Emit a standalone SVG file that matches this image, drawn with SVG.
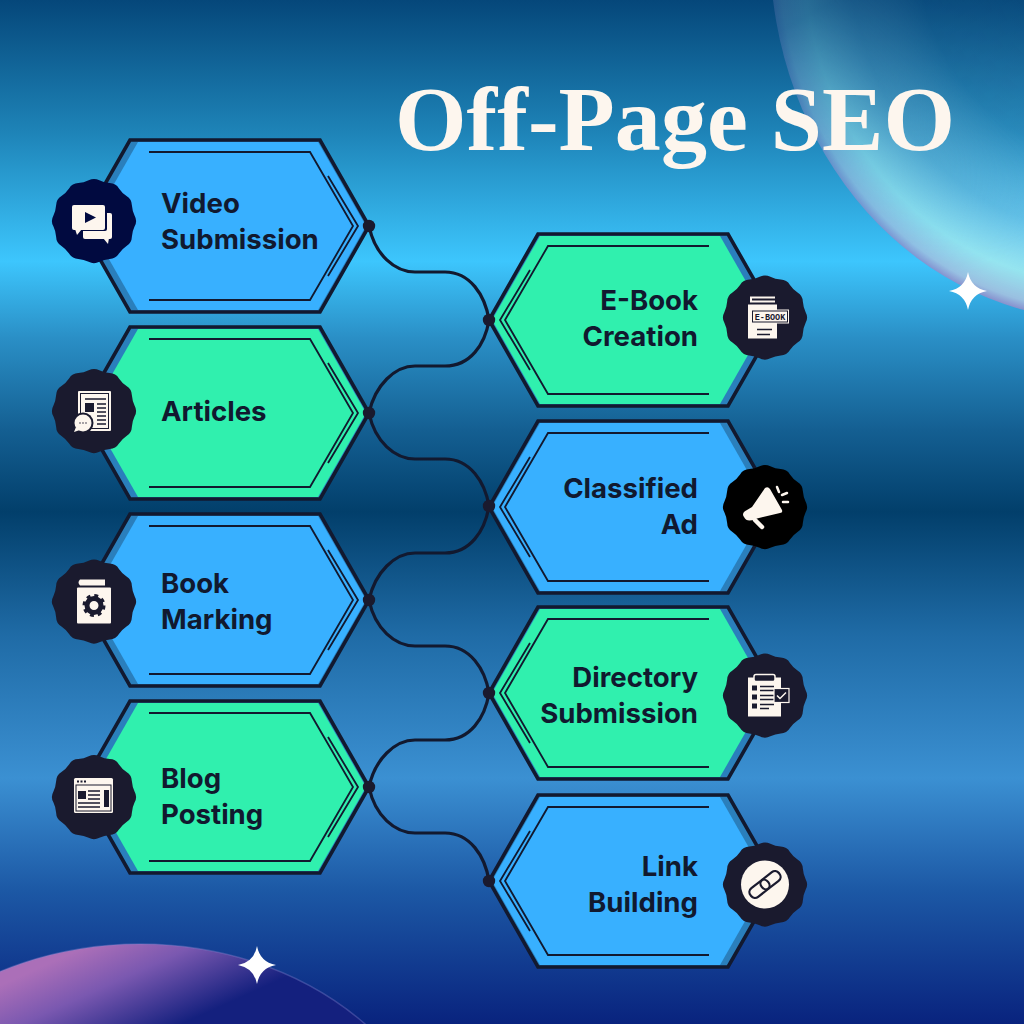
<svg xmlns="http://www.w3.org/2000/svg" width="1024" height="1024" viewBox="0 0 1024 1024">
<style>
.out{stroke:#12192f;stroke-width:3.6;stroke-linejoin:miter}
.in{fill:none;stroke:#12192f;stroke-width:1.8}
.lbl{font-family:"Inter","Liberation Sans",sans-serif;font-weight:700;font-size:27.6px;fill:#11192f}
.r{text-anchor:end}
.c{fill:#fdf6ee}
.conn{fill:none;stroke:#12192f;stroke-width:3.2}
.dot{fill:#1a1a2e}
</style>
<defs>
<linearGradient id="bg" x1="0" y1="0" x2="0" y2="1">
<stop offset="0" stop-color="#05477a"/>
<stop offset=".13" stop-color="#1e84b8"/>
<stop offset=".255" stop-color="#3dc6fd"/>
<stop offset=".33" stop-color="#2a8fc6"/>
<stop offset=".42" stop-color="#145f92"/>
<stop offset=".5" stop-color="#023f6b"/>
<stop offset=".62" stop-color="#1f6ba6"/>
<stop offset=".76" stop-color="#3b90d2"/>
<stop offset=".87" stop-color="#1c58a5"/>
<stop offset="1" stop-color="#09237e"/>
</linearGradient>
<radialGradient id="pl1" gradientUnits="userSpaceOnUse" cx="0" cy="0" r="1" gradientTransform="translate(1100 -50) scale(330 370)">
<stop offset="0" stop-color="#fff" stop-opacity="0"/>
<stop offset=".55" stop-color="#cfeef5" stop-opacity=".08"/>
<stop offset=".76" stop-color="#a0d4e6" stop-opacity=".45"/>
<stop offset=".9" stop-color="#a0e8ee" stop-opacity=".9"/>
<stop offset=".975" stop-color="#9fc0e0" stop-opacity=".95"/>
<stop offset="1" stop-color="#8c8fcc" stop-opacity=".95"/>
</radialGradient>
<linearGradient id="pm" gradientUnits="userSpaceOnUse" x1="800" y1="20" x2="950" y2="290">
<stop offset="0" stop-color="#fff" stop-opacity=".25"/>
<stop offset=".5" stop-color="#fff" stop-opacity=".7"/>
<stop offset="1" stop-color="#fff" stop-opacity="1"/>
</linearGradient>
<mask id="m1" maskUnits="userSpaceOnUse" x="0" y="0" width="1024" height="1024"><rect width="1024" height="1024" fill="url(#pm)"/></mask>
<linearGradient id="pl2" gradientUnits="userSpaceOnUse" x1="90" y1="945" x2="135" y2="1045">
<stop offset="0" stop-color="#ab6fb8"/>
<stop offset=".4" stop-color="#7a58b0"/>
<stop offset="1" stop-color="#14207e"/>
</linearGradient>
<polygon id="hexo" points="130,140 320,140 369,226 320,312 130,312 81,226"/>
<polygon id="hexf" points="138,142 318,142 366,226 318,310 138,310 90,226"/>
<g id="lines">
<polyline class="in" points="149,152 310,152 353,226 310,300 149,300"/>
<polyline class="in" points="328,176 358,226 328,276"/>
</g>
<g id="hexB"><use href="#hexo" fill="#2a7fbc" class="out"/><use href="#hexf" fill="#38b0ff"/><use href="#lines"/></g>
<g id="hexG"><use href="#hexo" fill="#2a7fbc" class="out"/><use href="#hexf" fill="#30f0ae"/><use href="#lines"/></g>
<path id="blob" d="M40.65 -5.35Q43.6 0 40.65 5.35Q38.25 10.25 37.88 15.69Q37.76 21.8 32.53 24.96Q28 28 24.96 32.53Q21.8 37.76 15.69 37.88Q10.25 38.25 5.35 40.65Q0 43.6 -5.35 40.65Q-10.25 38.25 -15.69 37.88Q-21.8 37.76 -24.96 32.53Q-28 28 -32.53 24.96Q-37.76 21.8 -37.88 15.69Q-38.25 10.25 -40.65 5.35Q-43.6 0 -40.65 -5.35Q-38.25 -10.25 -37.88 -15.69Q-37.76 -21.8 -32.53 -24.96Q-28 -28 -24.96 -32.53Q-21.8 -37.76 -15.69 -37.88Q-10.25 -38.25 -5.35 -40.65Q0 -43.6 5.35 -40.65Q10.25 -38.25 15.69 -37.88Q21.8 -37.76 24.96 -32.53Q28 -28 32.53 -24.96Q37.76 -21.8 37.88 -15.69Q38.25 -10.25 40.65 -5.35Z"/>
<path id="star" d="M0 -19Q3 -3 19 0Q3 3 0 19Q-3 3 -19 0Q-3 -3 0 -19Z" fill="#fff"/>
</defs>
<rect id="background" width="1024" height="1024" fill="url(#bg)"/>
<ellipse cx="1100" cy="-50" rx="330" ry="370" fill="url(#pl1)" mask="url(#m1)"/>
<ellipse cx="140" cy="1200" rx="310" ry="256" fill="url(#pl2)" stroke="#8a86d0" stroke-opacity=".35" stroke-width="1.500"/>
<use href="#star" x="968" y="291"/>
<use href="#star" x="257" y="965"/>
<text id="title" x="395" y="150" textLength="560" lengthAdjust="spacing" font-family="Liberation Serif,serif" font-weight="700" font-size="92" fill="#fdf6ee">Off-Page SEO</text>

<g id="connectors">
<path class="conn" d="M369 226C375 255 395 272 415 272H445C470 272 485 295 489 320"/>
<path class="conn" d="M489 320C485 345 470 366 445 366H415C395 366 375 385 369 413"/>
<path class="conn" d="M369 413C375 442 395 459 415 459H445C470 459 485 482 489 506"/>
<path class="conn" d="M489 506C485 531 470 553 445 553H415C395 553 375 572 369 600"/>
<path class="conn" d="M369 600C375 629 395 646 415 646H445C470 646 485 669 489 693"/>
<path class="conn" d="M489 693C485 718 470 740 445 740H415C395 740 375 759 369 787"/>
<path class="conn" d="M369 787C375 816 395 833 415 833H445C470 833 485 856 489 881"/>
</g>

<g id="node-video">
<use href="#hexB"/><use href="#blob" x="94" y="221" fill="#010a40"/>
<g transform="translate(94 221)">
<rect x="-11" y="-8" width="29" height="26" rx="2" class="c"/>
<path d="M9 17l5 6 1-6z" class="c"/>
<rect x="-24" y="-18" width="37" height="28" rx="2" fill="#010a40"/>
<rect x="-22" y="-16" width="33" height="25" rx="2" class="c"/>
<path d="M-19 8l2 6 5-6z" class="c"/>
<path d="M-9 -9L2 -3.500L-9 2z" fill="#010a40"/>
</g>
<text class="lbl" x="161" y="213">Video</text><text class="lbl" x="161" y="249">Submission</text>
</g>

<g id="node-articles">
<use href="#hexG" transform="translate(0 187)"/><use href="#blob" x="94" y="411" fill="#1a1a2e"/>
<g transform="translate(94 411)">
<rect x="-16" y="-20" width="33" height="40" rx="1" class="c"/>
<rect x="-13.500" y="-17.500" width="28" height="35" fill="none" stroke="#1a1a2e" stroke-width="1"/>
<rect x="-9" y="-8" width="9" height="9" fill="#1a1a2e"/>
<path d="M-9 -12H12M3 -7H12M3 -3H12M3 1H12M3 5H12M3 9H12M3 13H12" stroke="#1a1a2e" stroke-width="1.500"/>
<circle cx="-11" cy="12" r="10.500" fill="#1a1a2e"/>
<circle cx="-11" cy="12" r="8.500" class="c"/>
<path d="M-18 16l-2 5 6-2z" class="c"/>
<path d="M-14.500 12h1M-11.500 12h1M-8.500 12h1" stroke="#1a1a2e" stroke-width="1.600"/>
</g>
<text class="lbl" x="161" y="421">Articles</text>
</g>

<g id="node-bookmarking">
<use href="#hexB" transform="translate(0 374)"/><use href="#blob" x="94" y="601.500" fill="#1a1a2e"/>
<g transform="translate(94 601.500)">
<path d="M-14 -22H11V-16H-14Q-17 -19 -14 -22Z" class="c"/>
<rect x="-17" y="-14" width="34" height="36" rx="1" class="c"/>
<circle cx="0" cy="4" r="7" fill="none" stroke="#1a1a2e" stroke-width="5"/>
<circle cx="0" cy="4" r="9.500" fill="none" stroke="#1a1a2e" stroke-width="4" stroke-dasharray="3.700 3.760"/>
</g>
<text class="lbl" x="161" y="593">Book</text><text class="lbl" x="161" y="629">Marking</text>
</g>

<g id="node-blog">
<use href="#hexG" transform="translate(0 561)"/><use href="#blob" x="94" y="797" fill="#1a1a2e"/>
<g transform="translate(94 797)">
<rect x="-20" y="-19" width="39" height="35" rx="1.500" class="c"/>
<rect x="-18" y="-12" width="35" height="26" fill="none" stroke="#1a1a2e" stroke-width="1"/>
<path d="M-17 -15.500h2M-13.500 -15.500h2M-10 -15.500h2" stroke="#1a1a2e" stroke-width="2"/>
<rect x="-16" y="-6" width="8" height="8" fill="#1a1a2e"/>
<rect x="10" y="-7" width="5" height="17" fill="#1a1a2e"/>
<path d="M-6 -6H6M-6 -2H6M-6 2H6M-16 6H6M-16 10H6" stroke="#1a1a2e" stroke-width="1.600"/>
</g>
<text class="lbl" x="161" y="788">Blog</text><text class="lbl" x="161" y="824">Posting</text>
</g>

<g id="node-ebook">
<use href="#hexG" transform="translate(858 94) scale(-1 1)"/><use href="#blob" x="765" y="317.500" fill="#1a1a2e"/>
<g transform="translate(765 317.500)">
<rect x="-17" y="-13" width="29" height="34" class="c"/>
<path d="M-15 -21H10V-19H-13V-17H10V-15H-15Z" class="c"/>
<rect x="-14" y="-8" width="38" height="14" class="c"/>
<rect x="-12.500" y="-6.500" width="35" height="11" fill="none" stroke="#1a1a2e" stroke-width="1"/>
<text x="5" y="2.500" text-anchor="middle" font-family="Liberation Mono,monospace" font-weight="700" font-size="8.500" fill="#1a1a2e">E-BOOK</text>
<path d="M-8 12H7M-8 17H5" stroke="#1a1a2e" stroke-width="1.600"/>
</g>
<text class="lbl r" x="698" y="310">E-Book</text><text class="lbl r" x="698" y="346">Creation</text>
</g>

<g id="node-classified">
<use href="#hexB" transform="translate(858 281) scale(-1 1)"/><use href="#blob" x="765" y="507" fill="#000"/>
<g transform="translate(765 507)">
<path d="M0 -19Q3 -21 5 -18L17 3Q18 6 15 6L-10 12Q-18 16 -21 10Q-24 6 -18 3L-13 0Z" class="c"/>
<path d="M-10 13L-3 20" stroke="#fdf6ee" stroke-width="4.500" stroke-linecap="round"/>
<path d="M12 -20L14 -15M17 -12L22 -14M18 -5H23" stroke="#fdf6ee" stroke-width="2.500" stroke-linecap="round"/>
</g>
<text class="lbl r" x="698" y="498">Classified</text><text class="lbl r" x="698" y="534">Ad</text>
</g>

<g id="node-directory">
<use href="#hexG" transform="translate(858 467) scale(-1 1)"/><use href="#blob" x="765" y="695.500" fill="#1a1a2e"/>
<g transform="translate(765 695.500)">
<path d="M-17 -18H16V21H-17Z" class="c"/>
<rect x="-11" y="-21" width="21" height="7" rx="2" fill="#1a1a2e" stroke="#fdf6ee" stroke-width="1.500"/>
<path d="M-13 -10h5v5h-5zM-13 -1h5v5h-5zM-13 8h5v5h-5z" fill="#1a1a2e"/>
<path d="M-5 -9H9M-5 -5H9M-5 0H9M-5 4H9M-5 9H9M-5 13H4" stroke="#1a1a2e" stroke-width="1.300"/>
<rect x="9" y="-7" width="15" height="14" fill="#1a1a2e" stroke="#fdf6ee" stroke-width="1.200"/>
<path d="M12 0l3 3 6 -6" fill="none" stroke="#fdf6ee" stroke-width="1.500"/>
</g>
<text class="lbl r" x="698" y="687">Directory</text><text class="lbl r" x="698" y="723">Submission</text>
</g>

<g id="node-link">
<use href="#hexB" transform="translate(858 655) scale(-1 1)"/><use href="#blob" x="765" y="884.500" fill="#1a1a2e"/>
<circle cx="765" cy="884.500" r="24" class="c"/>
<g transform="translate(765 884.500) rotate(-38)" fill="none" stroke="#1a1a2e" stroke-width="2.200">
<rect x="-18" y="-5.500" width="22" height="11" rx="5"/>
<rect x="-4" y="-5.500" width="22" height="11" rx="5"/>
</g>
<text class="lbl r" x="698" y="876">Link</text><text class="lbl r" x="698" y="912">Building</text>
</g>

<g id="dots">
<circle class="dot" cx="369" cy="226" r="6.200"/><circle class="dot" cx="369" cy="413" r="6.200"/><circle class="dot" cx="369" cy="600" r="6.200"/><circle class="dot" cx="369" cy="787" r="6.200"/>
<circle class="dot" cx="489" cy="320" r="6.200"/><circle class="dot" cx="489" cy="506" r="6.200"/><circle class="dot" cx="489" cy="693" r="6.200"/><circle class="dot" cx="489" cy="881" r="6.200"/>
</g>
</svg>
